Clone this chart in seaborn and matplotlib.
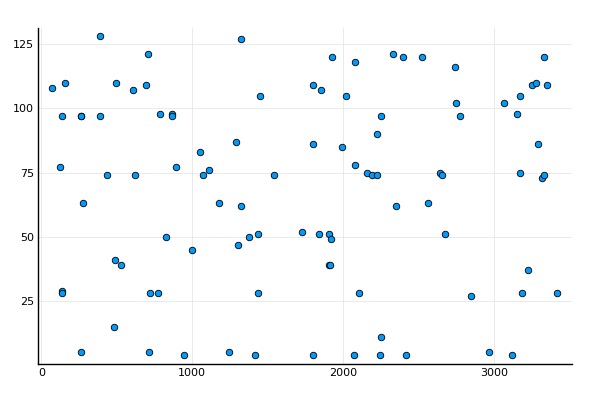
import matplotlib
matplotlib.use("Agg")
import matplotlib.pyplot as plt
import seaborn as sns
import pandas as pd

# values
x_vals = [73, 126, 137, 137, 137, 159, 265, 265, 276, 265, 391, 391, 435, 479, 490,
          497, 526, 607, 620, 691, 713, 710, 722, 771, 788, 828, 863, 863, 892, 943,
          998, 1053, 1073, 1108, 1179, 1245, 1287, 1305, 1325, 1320, 1373, 1417, 1437, 1437, 1448,
          1541, 1729, 1797, 1797, 1797, 1839, 1852, 1905, 1903, 1910, 1917, 1927, 1991, 2018, 2075,
          2073, 2075, 2106, 2155, 2188, 2223, 2223, 2248, 2252, 2245, 2331, 2351, 2393, 2415, 2523,
          2563, 2638, 2652, 2674, 2740, 2748, 2775, 2843, 2967, 3064, 3119, 3148, 3168, 3172, 3184,
          3223, 3250, 3278, 3289, 3314, 3331, 3331, 3351, 3417]
y_vals = [108, 77, 97, 29, 28, 110, 97, 5, 63, 97, 128, 97, 74, 15, 41,
          110, 39, 107, 74, 109, 5, 121, 28, 28, 98, 50, 98, 97, 77, 4,
          45, 83, 74, 76, 63, 5, 87, 47, 62, 127, 50, 4, 51, 28, 105,
          74, 52, 109, 86, 4, 51, 107, 51, 39, 39, 49, 120, 85, 105, 78,
          4, 118, 28, 75, 74, 74, 90, 97, 11, 4, 121, 62, 120, 4, 120,
          63, 75, 74, 51, 116, 102, 97, 27, 5, 102, 4, 98, 105, 75, 28,
          37, 109, 110, 86, 73, 74, 120, 109, 28]

df = pd.DataFrame({"x": x_vals, "y": y_vals})

sns.set_style("white")
fig = plt.figure(figsize=(6, 4), dpi=100)
ax = fig.add_axes([0.0633, 0.09, 0.89, 0.84])

sns.scatterplot(data=df, x="x", y="y", ax=ax, color="#009AFA", s=22,
                edgecolor="black", linewidth=0.6, legend=False, zorder=3)

ax.set_xlim(-22, 3515)
ax.set_ylim(0.5, 131.3)
ax.set_xticks([0, 1000, 2000, 3000])
ax.set_yticks([25, 50, 75, 100, 125])
ax.grid(True, color="#e6e6e6", linewidth=0.6)
ax.set_xlabel("")
ax.set_ylabel("")
for side in ["top", "right"]:
    ax.spines[side].set_visible(False)
for side in ["left", "bottom"]:
    ax.spines[side].set_color("black")
    ax.spines[side].set_linewidth(1.0)
ax.tick_params(axis="both", direction="in", length=4, width=0.8, color="#555555",
               labelsize=8, labelcolor="black", pad=3)

fig.savefig("out.png", dpi=100)
